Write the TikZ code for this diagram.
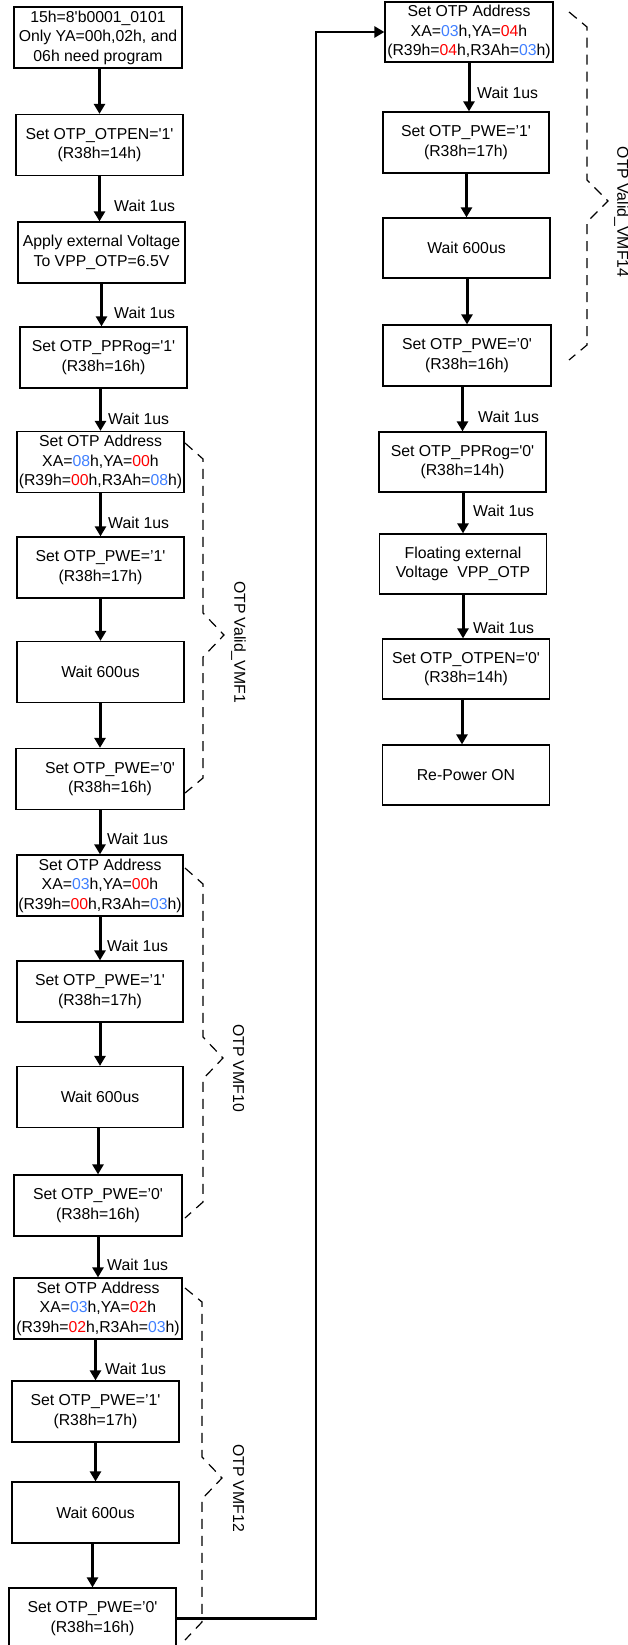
\documentclass[tikz,border=0pt]{standalone}
\usepackage{fontspec}
\setmainfont{Liberation Sans}
\usetikzlibrary{arrows.meta}
\definecolor{blu}{RGB}{64,128,255}
\definecolor{rdc}{RGB}{255,0,0}
\newcommand\sqt{\textquotesingle}
\newcommand\bl[1]{\textcolor{blu}{#1}}
\newcommand\rdd[1]{\textcolor{rdc}{#1}}
\begin{document}
\begin{tikzpicture}[x=1pt,y=-1pt,
  box/.style={draw, line width=1.2pt, inner sep=0pt, align=center,
    font=\fontsize{15.8}{19.5}\selectfont, minimum width=167pt, minimum height=61pt},
  flow/.style={line width=3pt, -{Triangle[width=11pt,length=10pt]}},
  wt/.style={anchor=west, inner sep=0pt, font=\fontsize{15.8}{19}\selectfont},
  brc/.style={line width=1.2pt, dash pattern=on 10pt off 7pt},
  vlab/.style={rotate=-90, inner sep=0pt, font=\fontsize{15.8}{19}\selectfont}]
\useasboundingbox[fill=white] (0,0) rectangle (628,1645);
% left column
\node[box, minimum width=168pt] (b1) at (98,37.5) {15h=8\sqt b0001\_0101\\Only YA=00h,02h, and\\06h need program};
\node[box] (b2) at (99.5,145) {Set OTP\_OTPEN=\sqt1\sqt\\(R38h=14h)};
\node[box] (b3) at (101.5,252.5) {Apply external Voltage\\To VPP\_OTP=6.5V};
\node[box] (b4) at (103.5,357.5) {Set OTP\_PPRog=\sqt1\sqt\\(R38h=16h)};
\node[box] (b5) at (100.5,462) {Set OTP Address\\XA=\bl{08}h,YA=\rdd{00}h\\(R39h=\rdd{00}h,R3Ah=\bl{08}h)};
\node[box] (b6) at (100.5,567.5) {Set OTP\_PWE=’1\sqt\\(R38h=17h)};
\node[box] (b7) at (100.5,672) {Wait 600us};
\node[box, minimum width=168pt] (b8) at (100,779) {\hspace*{20pt}Set OTP\_PWE=’0\sqt\\\hspace*{20pt}(R38h=16h)};
\node[box, minimum width=166pt] (b9) at (100,885.5) {Set OTP Address\\XA=\bl{03}h,YA=\rdd{00}h\\(R39h=\rdd{00}h,R3Ah=\bl{03}h)};
\node[box, minimum width=166pt] (b10) at (100,991.5) {Set OTP\_PWE=’1\sqt\\(R38h=17h)};
\node[box, minimum width=166pt] (b11) at (100,1097) {Wait 600us};
\node[box, minimum width=168pt] (b12) at (98,1205.5) {Set OTP\_PWE=’0\sqt\\(R38h=16h)};
\node[box, minimum width=168pt] (b13) at (98,1308.5) {Set OTP Address\\XA=\bl{03}h,YA=\rdd{02}h\\(R39h=\rdd{02}h,R3Ah=\bl{03}h)};
\node[box] (b14) at (95.5,1411.5) {Set OTP\_PWE=’1\sqt\\(R38h=17h)};
\node[box] (b15) at (95.5,1512.5) {Wait 600us};
\node[box] (b16) at (92.5,1618.5) {Set OTP\_PWE=’0\sqt\\(R38h=16h)};
% right column
\node[box, minimum width=168pt, minimum height=60pt] (b17) at (469,32) {Set OTP Address\\XA=\bl{03}h,YA=\rdd{04}h\\(R39h=\rdd{04}h,R3Ah=\bl{03}h)};
\node[box, minimum width=166pt] (b18) at (466,142.5) {Set OTP\_PWE=’1\sqt\\(R38h=17h)};
\node[box, minimum height=60pt] (b19) at (466.5,248) {Wait 600us};
\node[box, minimum width=168pt] (b20) at (467,355.5) {Set OTP\_PWE=’0\sqt\\(R38h=16h)};
\node[box, minimum height=60pt] (b21) at (462.5,462) {Set OTP\_PPRog=\sqt0\sqt\\(R38h=14h)};
\node[box, minimum height=60pt] (b22) at (463,564) {Floating external\\Voltage\ \ VPP\_OTP};
\node[box, minimum height=60pt] (b23) at (466,669) {Set OTP\_OTPEN=\sqt0\sqt\\(R38h=14h)};
\node[box, minimum height=60pt] (b24) at (466,775) {Re-Power ON};
% arrows
\foreach \a/\b in {b1/b2,b4/b5,b5/b6,b6/b7,b7/b8,b8/b9,b9/b10,b10/b11,b11/b12,b12/b13,b13/b14,b14/b15,b15/b16,b18/b19,b19/b20,b20/b21,b21/b22}
  \draw[flow] (\a.south -| \b.north) -- (\b.north);
\foreach \a/\b in {b2/b3,b3/b4,b17/b18,b22/b23}
  \draw[flow] (\a.south) -- (\a.south |- \b.north);
\draw[flow] ([xshift=-4pt]b23.south) -- ([xshift=-4pt]b24.north);
% long connector
\coordinate (rail) at (316,0);
\draw[flow, line width=2.7pt] (b16.east) -- (b16.east -| rail) -- (rail |- b17.west) -- (b17.west);
% wait labels
\node[wt] (w1) at (114,206) {Wait 1us};
\node[wt] (w2) at (114,313) {Wait 1us};
\node[wt] (w3) at (108,419) {Wait 1us};
\node[wt] (w4) at (108,523) {Wait 1us};
\node[wt] (w5) at (107,839) {Wait 1us};
\node[wt] (w6) at (107,946) {Wait 1us};
\node[wt] (w7) at (107,1265) {Wait 1us};
\node[wt] (w8) at (105,1369) {Wait 1us};
\node[wt] (w9) at (477,93) {Wait 1us};
\node[wt] (w10) at (478,417) {Wait 1us};
\node[wt] (w11) at (473,511) {Wait 1us};
\node[wt] (w12) at (473,628) {Wait 1us};
% braces
\draw[brc] (185,443) -- (203,459) -- (203,613) -- (224,635) -- (203,657) -- (203,778) -- (185,793);
\draw[brc] (185,868) -- (203,884) -- (203,1037) -- (223,1058) -- (203,1079) -- (203,1202) -- (185,1218);
\draw[brc] (185,1288) -- (202,1302) -- (202,1457) -- (222,1478) -- (202,1499) -- (202,1622) -- (185,1640);
\draw[brc] (569,12) -- (587,27) -- (587,180) -- (608,201) -- (587,222) -- (587,345) -- (569,360);
\node[vlab] (l1) at (238.5,642) {OTP Valid\_VMF1};
\node[vlab] (l2) at (238.5,1068) {OTP VMF10};
\node[vlab] (l3) at (238.5,1488) {OTP VMF12};
\node[vlab] (l4) at (621.5,212) {OTP Valid\_VMF14};
\end{tikzpicture}
\end{document}
